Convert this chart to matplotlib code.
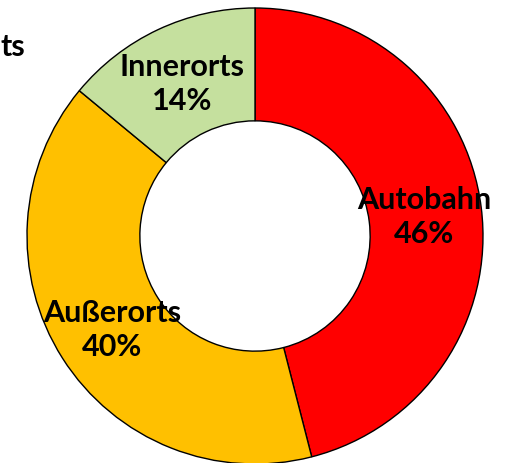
import matplotlib.pyplot as plt

# data
labels = ["Autobahn", "Außerorts", "Innerorts"]
shares = [46, 40, 14]
colors = ["#FF0000", "#FFC000", "#C5E09E"]

plt.rcParams['font.family'] = ['Lato', 'DejaVu Sans']

fig = plt.figure(figsize=(5.23, 4.64), dpi=100)
ax = fig.add_axes([0, 0, 1, 1])

cx, cy, r = 255, 464 - 237, 228
wedges, _ = ax.pie(shares, colors=colors, startangle=90, counterclock=False,
                   center=(cx, cy), radius=r, frame=True,
                   wedgeprops=dict(width=r * 0.495, edgecolor='black', linewidth=1))
ax.set_xlim(0, 523)
ax.set_ylim(0, 464)
ax.axis('off')

label_pos = [(424, 464 - 217), (112, 464 - 330), (182, 464 - 84)]
for name, v, (x, y) in zip(labels, shares, label_pos):
    ax.text(x, y, "{}\n{}%".format(name, v), ha='center', va='center',
            fontsize=22, fontweight='bold', linespacing=1.22)

# rest of the title at the left edge
ax.text(0, 464 - 47, "ts", ha='left', va='center', fontsize=22, fontweight='bold')

fig.savefig("out.png", dpi=100)
